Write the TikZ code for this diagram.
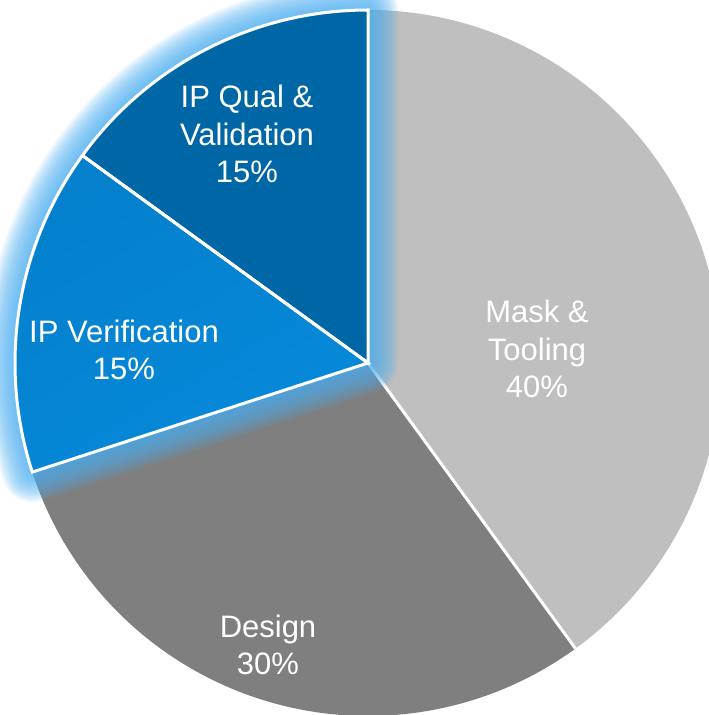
\documentclass[tikz,border=0pt]{standalone}
\usepackage{fontspec}
\setmainfont{Liberation Sans}
\definecolor{maskgray}{HTML}{BFBFBF}
\definecolor{designgray}{HTML}{7F7F7F}
\definecolor{verifblue}{HTML}{0480CC}
\definecolor{verifbright}{HTML}{0689DA}
\definecolor{qualblue}{HTML}{0067A6}
\definecolor{glowblue}{HTML}{4DAEF0}
\begin{document}
\begin{tikzpicture}[x=1pt,y=1pt,
  lbl/.style={text=white, align=center, font=\fontsize{31}{37.5}\selectfont},
  sep/.style={white, line width=3pt}]
\useasboundingbox (0,0) rectangle (709,715);
\clip (0,0) rectangle (709,715);
\coordinate (c) at (368,352);
\def\R{353}
% grey slices
\fill[maskgray] (c) -- ++(90:\R) arc (90:-54:\R) -- cycle;
\fill[designgray] (c) -- ++(-54:\R) arc (-54:-162:\R) -- cycle;
\draw[sep] (c) -- ++(-54:\R);
% soft glow around the two blue slices
\foreach \k in {1,...,15} {
  \draw[glowblue, opacity=0.1, line width={4pt*\k}, line join=round]
    (c) -- ++(90:\R) arc (90:198:\R) -- cycle;
}
% blue slices
\shade[left color=verifblue, right color=verifbright, shading angle=30]
  (c) -- ++(198:\R) arc (198:144:\R) -- cycle;
\fill[qualblue] (c) -- ++(144:\R) arc (144:90:\R) -- cycle;
\draw[sep, line join=miter] (c) -- ++(198:\R) arc (198:144:\R) -- cycle;
\draw[sep, line join=miter] (c) -- ++(144:\R) arc (144:90:\R) -- cycle;
% labels
\node[lbl] (qual) at (247,581) {IP Qual \&\\Validation\\15\%};
\node[lbl] (verif) at (124,365) {IP Verification\\15\%};
\node[lbl] (mask) at (537,366) {Mask \&\\Tooling\\40\%};
\node[lbl] (design) at (268,70) {Design\\30\%};
\end{tikzpicture}
\end{document}
